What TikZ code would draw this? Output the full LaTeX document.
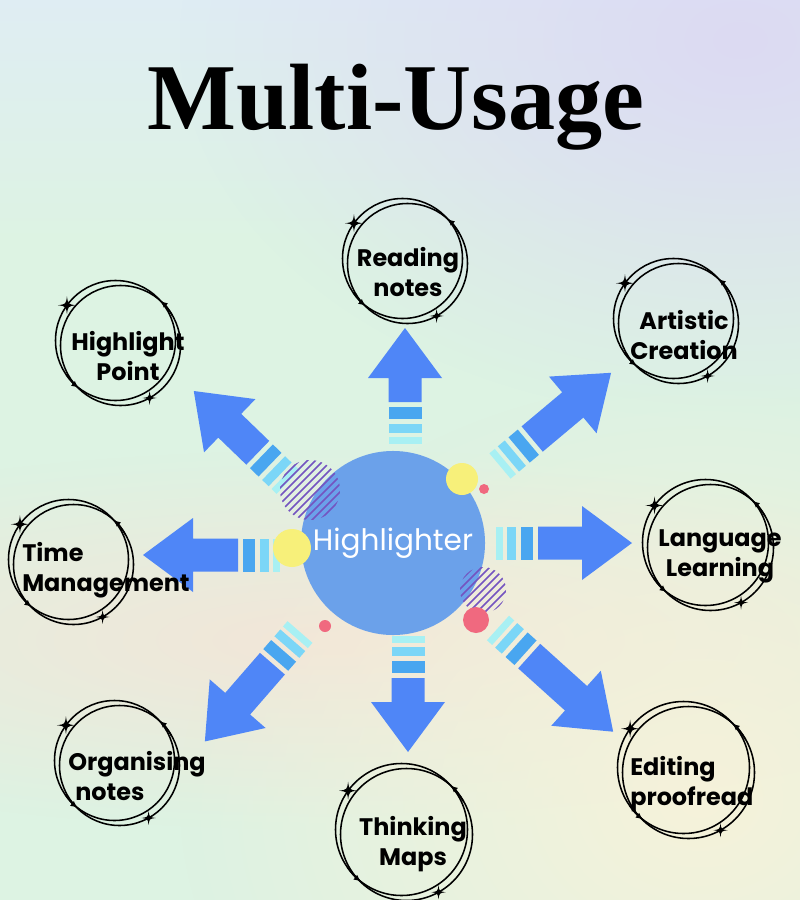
\documentclass[tikz,border=0pt]{standalone}
\usepackage{fontspec}
\usetikzlibrary{arrows.meta, fadings, calc, positioning}

\newfontfamily\titlefont{Liberation Serif}
\newfontfamily\labelfont{Poppins}

\definecolor{arrow_blue}{HTML}{4F86F7}
\definecolor{stripe_a}{HTML}{49A6F0}
\definecolor{stripe_b}{HTML}{7BD6F7}
\definecolor{stripe_c}{HTML}{A8F0F3}
\definecolor{hub_blue}{HTML}{6BA1EA}
\definecolor{dot_yellow}{HTML}{F7F07A}
\definecolor{dot_pink}{HTML}{F0697F}
\definecolor{hatch_purple}{HTML}{7454C0}
\definecolor{bg_blue}{HTML}{DFEDF3}
\definecolor{bg_mint}{HTML}{DDF3E3}
\definecolor{bg_lavender}{HTML}{DCDAF3}
\definecolor{bg_peach}{HTML}{F3E6D8}
\definecolor{bg_yellow}{HTML}{F6F2DA}

\tikzfading[name=blob_fade, inner color=transparent!0, outer color=transparent!100]

% striped block arrow: start, angle, shaft length
\newcommand{\usagearrow}[3]{%
  \begin{scope}[shift={#1}, rotate=#2]
    \fill[stripe_c] (0,-16.5) rectangle (7,16.5);
    \fill[stripe_b] (11,-16.5) rectangle (20,16.5);
    \fill[stripe_a] (25,-16.5) rectangle (37,16.5);
    \fill[arrow_blue] (42,-16.5) -- ++(#3,0) -- ++(0,-20.5) -- ++(50,37) -- ++(-50,37) -- ++(0,-20.5) -- ++(-#3,0) -- cycle;
  \end{scope}}

% sketchy double ring with sparkles
\newcommand{\sparkle}[2]{%
  \fill[shift={#1}, scale=#2] (0,-1) .. controls (0.12,-0.12) .. (1,0) .. controls (0.12,0.12) .. (0,1)
    .. controls (-0.12,0.12) .. (-1,0) .. controls (-0.12,-0.12) .. (0,-1) -- cycle;}
\newcommand{\usagering}[2]{%
  \draw[ring_line] ($(#1)+(-2.5,-2.5)$) circle[radius=#2];
  \draw[ring_line] ($(#1)+(2.5,2.5)$) circle[radius=#2];
  \sparkle{($(#1)+(-2.5,-2.5)+(216:#2)$)}{9}
  \sparkle{($(#1)+(2.5,2.5)+(61:#2)$)}{7}
  \draw[ring_line, -{Latex[length=5pt, width=4.5pt]}] ($(#1)+(2.5,2.5)+(330:#2)$) arc[start angle=330, end angle=312, radius=#2];
  \draw[ring_line, -{Latex[length=5pt, width=4.5pt]}] ($(#1)+(-2.5,-2.5)+(145:#2)$) arc[start angle=145, end angle=128, radius=#2];}

\begin{document}
\begin{tikzpicture}[x=0.025cm, y=-0.025cm,
    ring_line/.style={line width=1.1pt, black},
    usage_label/.style={font=\labelfont\bfseries\fontsize{17}{21.3}\selectfont, align=center, inner sep=0pt},
    hub_circle/.style={circle, fill=hub_blue, minimum size=4.6cm, inner sep=0pt, text=white, font=\labelfont\fontsize{21}{21}\selectfont},
    hatch_line/.style={hatch_purple, line width=1.2pt}
]
    \useasboundingbox (0,0) rectangle (800,900);

    % Background
    \begin{scope}
        \clip (0,0) rectangle (800,900);
        \fill[bg_mint] (0,0) rectangle (800,900);
        \shade[top color=bg_blue, bottom color=bg_mint] (0,0) rectangle (800,240);
        \fill[bg_lavender, path fading=blob_fade] (740,40) ellipse [x radius=560, y radius=380];
        \fill[bg_peach, path fading=blob_fade] (330,640) ellipse [x radius=760, y radius=190];
        \fill[bg_yellow, path fading=blob_fade] (700,800) ellipse [x radius=520, y radius=420];
    \end{scope}

    % Title
    \node[font=\titlefont\bfseries\fontsize{67}{67}\selectfont, anchor=base, inner sep=0pt] (title) at (396,130) {Multi-Usage};

    % Arrows
    \usagearrow{(405,444)}{90}{24}
    \usagearrow{(408,636)}{-90}{24}
    \usagearrow{(280,555)}{180}{45}
    \usagearrow{(496,543)}{0}{44}
    \usagearrow{(288,482)}{136}{39}
    \usagearrow{(500,466)}{40}{53}
    \usagearrow{(300,632)}{229}{53}
    \usagearrow{(498,628)}{-42}{63}

    % Hub
    \node[hub_circle] (hub) at (393,543) {Highlighter};

    % Decorations round the hub
    \begin{scope}
        \clip (310,490) circle[radius=30];
        \foreach \k in {-64,-56,...,64}
            \draw[hatch_line] ($(310,490)+(\k,0)+(-45,45)$) -- ++(90,-90);
    \end{scope}
    \begin{scope}
        \clip (483,590) circle[radius=23];
        \foreach \k in {-56,-48,...,56}
            \draw[hatch_line] ($(483,590)+(\k,0)+(-35,35)$) -- ++(70,-70);
    \end{scope}
    \fill[dot_yellow] (292,548) circle[radius=19];
    \fill[dot_yellow] (462,479) circle[radius=16];
    \fill[dot_pink] (484,489) circle[radius=5];
    \fill[dot_pink] (476,620) circle[radius=13];
    \fill[dot_pink] (325,626) circle[radius=6];

    % Usage rings
    \coordinate (ring_read) at (405,261);
    \coordinate (ring_art) at (676,321);
    \coordinate (ring_high) at (118,343);
    \coordinate (ring_time) at (71,562);
    \coordinate (ring_lang) at (708,545);
    \coordinate (ring_org) at (117,763);
    \coordinate (ring_think) at (404,832);
    \coordinate (ring_edit) at (686,770);
    \usagering{ring_read}{60}
    \usagering{ring_art}{60}
    \usagering{ring_high}{60}
    \usagering{ring_time}{60}
    \usagering{ring_lang}{63}
    \usagering{ring_org}{60}
    \usagering{ring_think}{66}
    \usagering{ring_edit}{66}

    % Usage labels
    \node[usage_label] (read) at (408,272) {Reading\\notes};
    \node[usage_label] (art) at (684,335) {Artistic\\Creation};
    \node[usage_label] (high) at (128,356) {Highlight\\Point};
    \node[usage_label, anchor=west, align=left] (time) at (22,570) {Time\\Management};
    \node[usage_label] (lang) at (720,556) {Language\\Learning};
    \node[usage_label, anchor=west, align=left] (org) at (68,776) {Organising\\\hspace*{5pt}notes};
    \node[usage_label] (think) at (413,844) {Thinking\\Maps};
    \node[usage_label, anchor=west, align=left] (edit) at (630,784) {Editing\\proofread};
\end{tikzpicture}
\end{document}
